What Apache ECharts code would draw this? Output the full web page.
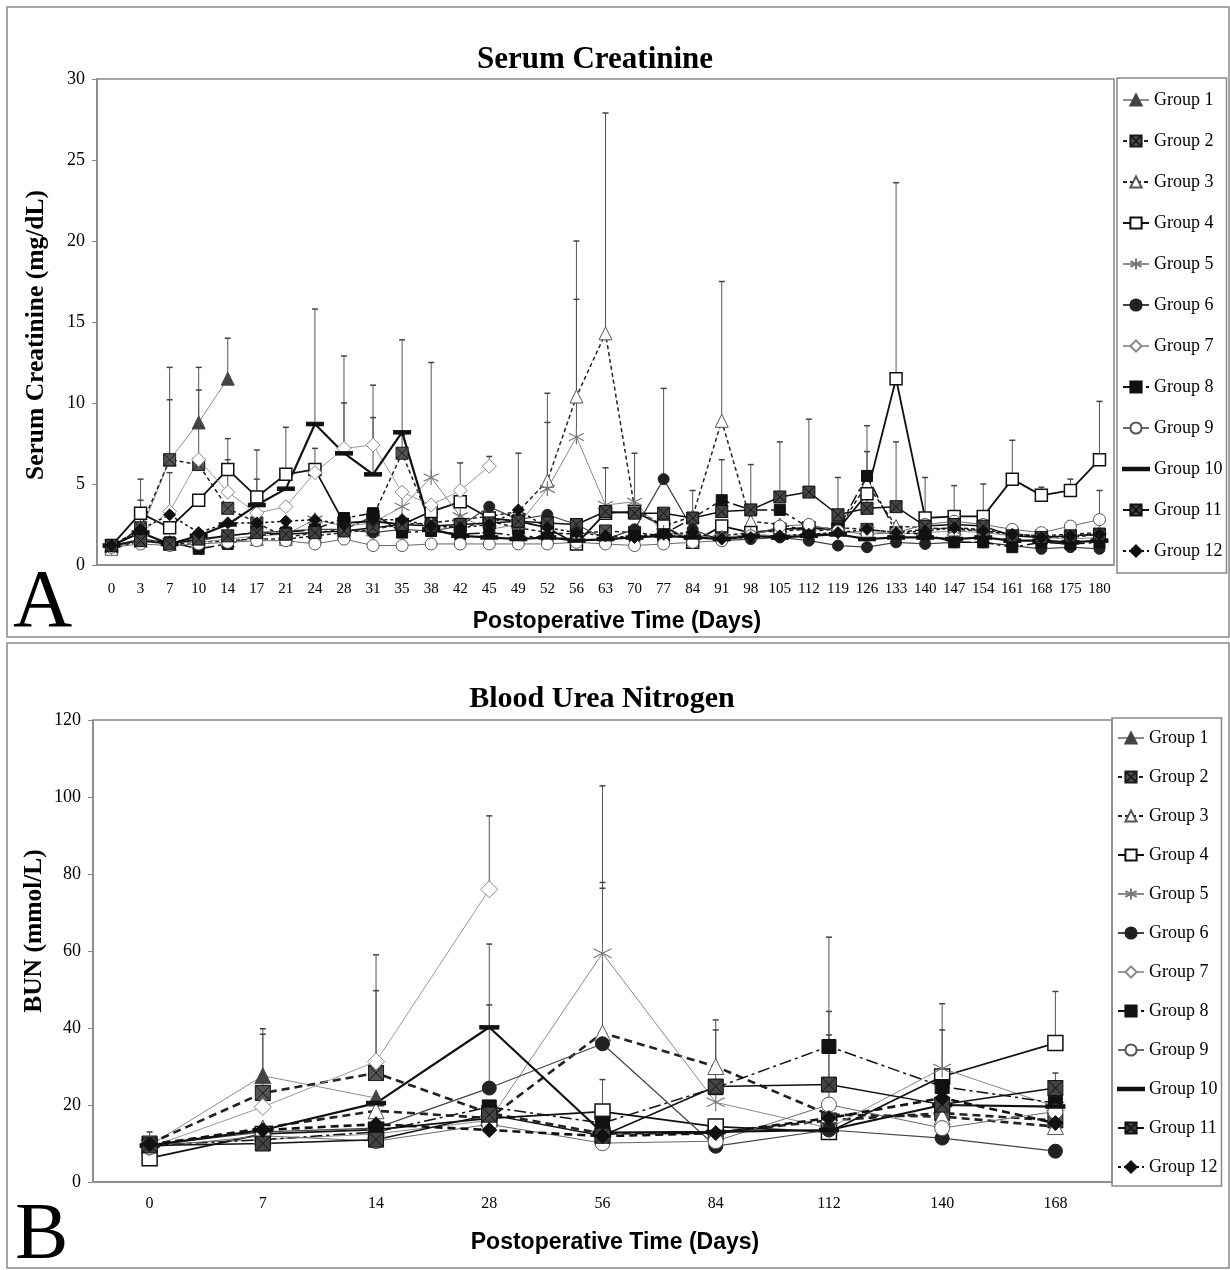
<!DOCTYPE html>
<html>
<head>
<meta charset="utf-8">
<title>Serum Creatinine and BUN</title>
<script src="https://cdn.jsdelivr.net/npm/echarts@6/dist/echarts.min.js"></script>
<style>
  html, body { margin: 0; padding: 0; background: #fff; }
  #chart { width: 1230px; height: 1270px; }
</style>
</head>
<body>
<div id="chart"></div>
<script>
// ---- Panel A: serum creatinine (mg/dL) ----
const creatDays = ['0','3','7','10','14','17','21','24','28','31','35','38','42','45','49','52','56','63','70','77','84','91','98','105','112','119','126','133','140','147','154','161','168','175','180'];
const creatG1 = [1.2, 2.0, 6.5, 8.8, 11.5];
const creatG2 = [1.1,2.3,6.5,6.2,3.5, 2.6,1.7,2.0,2.2,3.0, 6.9,2.5,2.3,2.7,2.3, 2.0,1.9,2.1,2.0,1.8, 1.7,1.8,2.0,2.1,2.2, 2.3,2.2,2.0,2.2,2.3, 2.2,1.9,1.8,1.7,1.9];
const creatG3 = [1.0,1.5,1.3,1.4,1.5, 1.6,1.6,1.8,2.0,2.2, 2.5,2.6,2.8,3.0,3.3, 5.2,10.4,14.3,3.5,2.4, 3.0,8.9,2.7,2.5,2.1, 2.2,5.0,2.4,2.3,2.2, 2.1,1.9,1.8,1.9,2.0];
const creatG4 = [1.2,3.2,2.3,4.0,5.9, 4.2,5.6,5.9,2.6,2.7, 2.5,3.3,3.9,2.9,2.7, 2.3,1.3,3.2,3.3,2.4, 1.4,2.4,2.0,2.2,2.3, 2.2,4.4,11.5,2.9,3.0, 3.0,5.3,4.3,4.6,6.5];
const creatG5 = [1.0,1.6,1.4,1.4,1.6, 1.8,1.9,2.8,2.4,2.6, 3.6,5.4,3.0,2.2,2.5, 4.7,7.9,3.7,3.9,2.0, 1.8,1.7,1.9,1.8,1.9, 2.0,2.1,1.9,2.0,2.1, 2.0,1.8,1.7,1.6,1.7];
const creatG6 = [1.2,1.6,1.4,1.5,1.8, 2.0,2.1,2.2,2.2,2.0, 2.2,2.1,2.4,3.6,2.8, 3.1,2.5,1.6,2.2,5.3, 2.2,1.5,1.6,1.7,1.5, 1.2,1.1,1.4,1.3,1.4, 1.4,1.2,1.0,1.1,1.0];
const creatG7 = [1.2,2.0,3.3,6.5,4.5, 3.2,3.6,5.7,7.2,7.4, 4.5,3.7,4.6,6.1];
const creatG8 = [1.2,1.5,1.4,1.0,1.3, 1.8,2.0,2.2,2.9,3.2, 2.0,2.1,1.9,2.0,1.8, 1.7,1.6,1.5,1.8,1.9, 2.9,4.0,3.4,3.4,2.3, 2.2,5.5,2.0,1.9,1.4, 1.4,1.1,1.4,1.3,1.4];
const creatG9 = [1.1,1.3,1.2,1.3,1.4, 1.5,1.5,1.3,1.6,1.2, 1.2,1.3,1.3,1.3,1.3, 1.3,1.4,1.3,1.2,1.3, 1.4,1.5,1.8,2.4,2.5, 2.1,1.9,2.0,2.5,2.7, 2.5,2.2,2.0,2.4,2.8];
const creatG10 = [1.2,2.0,1.3,1.8,2.5, 3.7,4.7,8.7,6.9,5.6, 8.2,2.2,1.8,1.7,1.6, 1.7,1.5,1.6,1.7,1.8, 1.7,1.6,1.8,1.7,1.8, 1.9,1.6,1.7,1.7,1.6, 1.7,1.5,1.5,1.4,1.5];
const creatG11 = [1.2,1.5,1.3,1.6,1.8, 2.0,1.9,2.0,2.1,2.3, 2.5,2.4,2.5,2.6,2.7, 2.6,2.5,3.3,3.2,3.2, 2.9,3.3,3.4,4.2,4.5, 3.1,3.5,3.6,2.4,2.5, 2.4,1.8,1.7,1.8,1.9];
const creatG12 = [1.2,2.2,3.1,2.0,2.6, 2.6,2.7,2.8,2.5,2.8, 2.8,2.4,2.3,2.5,3.4, 2.3,2.0,1.8,1.7,1.9, 2.0,1.6,1.7,1.8,1.9, 2.0,2.2,2.0,2.1,2.3, 2.1,1.9,1.7,1.8,1.9];
// error bar tops: [group number, day index, upper end]
const creatErr = [
  [4,1,5.3],[12,1,4.0],[2,2,12.2],[1,2,10.2],[7,2,5.7],[1,3,12.2],[7,3,10.8],
  [1,4,14.0],[4,4,7.8],[7,4,6.5],[4,5,7.1],[10,5,5.3],[4,6,8.5],[10,7,15.8],[4,7,7.2],
  [7,8,12.9],[10,8,10.0],[7,9,11.1],[10,9,9.1],[10,10,13.9],[2,10,8.0],[5,11,12.5],
  [4,12,6.3],[7,13,6.7],[12,14,6.9],[3,15,10.6],[5,15,8.8],[3,16,20.0],[5,16,16.4],
  [3,17,27.9],[4,17,6.0],[11,18,6.9],[6,19,10.9],[11,20,4.6],[3,21,17.5],[8,21,6.5],
  [11,22,6.2],[11,23,7.6],[11,24,9.0],[11,25,5.4],[8,26,8.6],[11,26,7.0],[4,27,23.6],
  [11,27,7.6],[4,28,5.4],[4,29,4.9],[4,30,5.0],[4,31,7.7],[4,32,4.8],[4,33,5.3],
  [4,34,10.1],[9,34,4.6]
];

// ---- Panel B: blood urea nitrogen (mmol/L) ----
const bunDays = ['0','7','14','28','56','84','112','140','168'];
const bunG1 = [9.5, 27.6, 21.8];
const bunG2 = [10.0, 23.1, 28.3, 17.9, 12.6, 12.8, 16.0, 17.9, 16.0];
const bunG3 = [9.5, 14.0, 18.5, 16.6, 38.7, 30.0, 17.5, 17.0, 14.4];
const bunG4 = [6.2, 12.5, 13.6, 16.5, 18.3, 14.4, 13.0, 27.4, 36.1];
const bunG5 = [9.8, 11.0, 12.5, 16.0, 59.4, 20.7, 14.0, 29.5, 19.6];
const bunG6 = [9.5, 13.0, 14.0, 24.4, 35.9, 9.3, 13.5, 11.4, 8.0];
const bunG7 = [9.0, 19.5, 31.3, 76.0];
const bunG8 = [9.5, 11.0, 13.0, 19.5, 15.3, 24.5, 35.2, 24.8, 20.5];
const bunG9 = [9.0, 12.0, 10.6, 15.0, 10.1, 10.6, 20.1, 14.0, 18.3];
const bunG10 = [9.5, 13.5, 20.5, 40.2, 12.8, 13.0, 13.5, 20.0, 19.6];
const bunG11 = [9.5, 10.0, 11.0, 17.5, 12.0, 24.8, 25.3, 20.1, 24.4];
const bunG12 = [9.8, 13.5, 15.0, 13.5, 11.9, 12.7, 16.6, 21.8, 15.3];
const bunErr = [
  [2,0,13.0],[1,1,39.8],[2,1,38.4],[7,2,59.0],[2,2,49.7],[7,3,95.1],[10,3,61.8],[6,3,46.0],
  [5,4,102.9],[3,4,77.8],[6,4,76.3],[4,4,26.6],[3,5,42.1],[11,5,39.5],[8,6,63.6],
  [11,6,44.3],[12,6,38.2],[5,7,46.3],[4,7,39.5],[4,8,49.5],[11,8,28.3]
];

const groupNames = ['Group 1','Group 2','Group 3','Group 4','Group 5','Group 6','Group 7','Group 8','Group 9','Group 10','Group 11','Group 12'];

// marker / line looks
const crossSquare = 'path://M0,0H10V10H0Z M0,0L10,10 M10,0L0,10';
const asterisk = 'path://M5,0V10 M0.7,2.5L9.3,7.5 M9.3,2.5L0.7,7.5';
const dashMark = 'path://M0,0H10V2H0Z';
const styles = [
  { symbol: 'triangle', size: 13, fill: '#444', border: '#444', bw: 1, line: '#8c8c8c', width: 1, type: 'solid' },
  { symbol: crossSquare, size: 12, fill: '#555', border: '#1a1a1a', bw: 1, line: '#222', width: 1.5, type: [4, 3] },
  { symbol: 'triangle', size: 13, fill: '#fff', border: '#555', bw: 1, line: '#222', width: 1.5, type: [4, 3] },
  { symbol: 'rect', size: 12, fill: '#fff', border: '#111', bw: 1.5, line: '#111', width: 1.8, type: 'solid' },
  { symbol: asterisk, size: 15, fill: '#777', border: '#777', bw: 1.2, line: '#8a8a8a', width: 1, type: 'solid' },
  { symbol: 'circle', size: 11, fill: '#222', border: '#222', bw: 1, line: '#444', width: 1.2, type: 'solid' },
  { symbol: 'diamond', size: 14, fill: '#fff', border: '#888', bw: 1, line: '#9a9a9a', width: 1, type: 'solid' },
  { symbol: 'rect', size: 11, fill: '#111', border: '#111', bw: 1, line: '#111', width: 1.5, type: [12, 4, 3, 4] },
  { symbol: 'circle', size: 12, fill: '#fff', border: '#555', bw: 1, line: '#6a6a6a', width: 1, type: 'solid' },
  { symbol: dashMark, size: [16, 4], fill: '#111', border: '#111', bw: 1, line: '#111', width: 2.2, type: 'solid' },
  { symbol: crossSquare, size: 12, fill: '#444', border: '#111', bw: 1, line: '#111', width: 1.5, type: 'solid' },
  { symbol: 'diamond', size: 12, fill: '#111', border: '#111', bw: 1, line: '#111', width: 1.5, type: [3, 3] }
];

const creatGroups = [creatG1, creatG2, creatG3, creatG4, creatG5, creatG6, creatG7, creatG8, creatG9, creatG10, creatG11, creatG12];
const bunGroups = [bunG1, bunG2, bunG3, bunG4, bunG5, bunG6, bunG7, bunG8, bunG9, bunG10, bunG11, bunG12];

const serif = "'Liberation Serif', 'Times New Roman', serif";
const sans = "'Liberation Sans', Arial, sans-serif";

function lineSeries(values, i, axis, big) {
  const s = styles[i];
  let size = s.size;
  if (big) size = Array.isArray(size) ? [size[0] + 2, size[1]] : size + 3;
  let width = s.width;
  let type = s.type;
  if (big && (i === 1 || i === 2 || i === 11)) { width = 2.6; type = [8, 5]; }
  return {
    name: groupNames[i],
    type: 'line',
    xAxisIndex: axis,
    yAxisIndex: axis,
    data: values,
    symbol: s.symbol,
    symbolSize: size,
    showAllSymbol: true,
    connectNulls: false,
    z: 3,
    lineStyle: { color: s.line, width: width, type: type },
    itemStyle: { color: s.fill, borderColor: s.border, borderWidth: s.bw, opacity: 1 },
    emphasis: { disabled: true }
  };
}

function errorSeries(groups, errs, axis) {
  const data = errs.map(e => [e[1], groups[e[0] - 1][e[1]], e[2]]);
  return {
    type: 'custom',
    xAxisIndex: axis,
    yAxisIndex: axis,
    z: 1,
    silent: true,
    data: data,
    encode: { x: 0, y: [1, 2] },
    renderItem: function (params, api) {
      const lo = api.coord([api.value(0), api.value(1)]);
      const hi = api.coord([api.value(0), api.value(2)]);
      return {
        type: 'group',
        children: [
          { type: 'line', shape: { x1: lo[0], y1: lo[1], x2: hi[0], y2: hi[1] }, style: { stroke: '#555', lineWidth: 1 } },
          { type: 'line', shape: { x1: hi[0] - 3, y1: hi[1], x2: hi[0] + 3, y2: hi[1] }, style: { stroke: '#444', lineWidth: 1.5 } }
        ]
      };
    }
  };
}

const axisGray = '#888';
function xAxis(days, grid, fontSize, margin) {
  return {
    type: 'category', gridIndex: grid, data: days, boundaryGap: true,
    axisLine: { lineStyle: { color: axisGray, width: 1.5 } },
    axisTick: { lineStyle: { color: axisGray }, length: 5, interval: 0 },
    axisLabel: { interval: 0, color: '#000', fontFamily: serif, fontSize: fontSize, margin: margin },
    splitLine: { show: false }
  };
}
function yAxis(grid, max, step) {
  return {
    type: 'value', gridIndex: grid, min: 0, max: max, interval: step,
    axisLine: { show: true, lineStyle: { color: axisGray, width: 1.5 } },
    axisTick: { show: true, lineStyle: { color: axisGray }, length: 5 },
    axisLabel: { color: '#000', fontFamily: serif, fontSize: 18, margin: 12 },
    splitLine: { show: false }
  };
}
// Group 10 has a bar-shaped marker, so its legend key is drawn as a plain thick line
const legendItems = groupNames.map(n => n === 'Group 10' ? { name: n, icon: 'path://M0,0H26V2.6H0Z' } : n);
function legend(pos, gap, pad) {
  return {
    data: legendItems, orient: 'vertical', left: pos.left, top: pos.top,
    itemWidth: 26, itemHeight: 14, itemGap: gap, padding: pad,
    borderColor: '#888', borderWidth: 1.5, selectedMode: false,
    textStyle: { fontFamily: serif, fontSize: 18, color: '#000', lineHeight: 20 }
  };
}

const chart = echarts.init(document.getElementById('chart'));
const series = [];
creatGroups.forEach((g, i) => series.push(lineSeries(g, i, 0, false)));
bunGroups.forEach((g, i) => series.push(lineSeries(g, i, 1, true)));
series.push(errorSeries(creatGroups, creatErr, 0));
series.push(errorSeries(bunGroups, bunErr, 1));

chart.setOption({
  animation: false,
  backgroundColor: '#fff',
  grid: [
    { left: 97, top: 79, width: 1017, height: 486, show: true, borderColor: axisGray, borderWidth: 1.5 },
    { left: 93, top: 720, width: 1019, height: 462, show: true, borderColor: axisGray, borderWidth: 1.5 }
  ],
  xAxis: [xAxis(creatDays, 0, 15, 17), xAxis(bunDays, 1, 16, 14)],
  yAxis: [yAxis(0, 30, 5), yAxis(1, 120, 20)],
  legend: [
    legend({ left: 1117, top: 78 }, 21, [12, 4, 12, 5]),
    legend({ left: 1112, top: 718 }, 19, [10, 4, 9, 5])
  ],
  graphic: [
    { type: 'rect', silent: true, shape: { x: 7, y: 7, width: 1222, height: 630 }, style: { fill: 'none', stroke: '#888', lineWidth: 1.5 } },
    { type: 'rect', silent: true, shape: { x: 7, y: 643, width: 1222, height: 625 }, style: { fill: 'none', stroke: '#888', lineWidth: 1.5 } },
    { type: 'text', x: 595, y: 60, style: { text: 'Serum Creatinine', font: "bold 31px " + serif, fill: '#000', align: 'center', verticalAlign: 'middle' } },
    { type: 'text', x: 602, y: 699, style: { text: 'Blood Urea Nitrogen', font: "bold 30px " + serif, fill: '#000', align: 'center', verticalAlign: 'middle' } },
    { type: 'text', x: 36, y: 335, rotation: Math.PI / 2, style: { text: 'Serum Creatinine (mg/dL)', font: "bold 25.5px " + serif, fill: '#000', align: 'center', verticalAlign: 'middle' } },
    { type: 'text', x: 34, y: 931, rotation: Math.PI / 2, style: { text: 'BUN (mmol/L)', font: "bold 25.5px " + serif, fill: '#000', align: 'center', verticalAlign: 'middle' } },
    { type: 'text', x: 617, y: 622, style: { text: 'Postoperative Time (Days)', font: "bold 23px " + sans, fill: '#000', align: 'center', verticalAlign: 'middle' } },
    { type: 'text', x: 615, y: 1243, style: { text: 'Postoperative Time (Days)', font: "bold 23px " + sans, fill: '#000', align: 'center', verticalAlign: 'middle' } },
    { type: 'text', x: 13, y: 604, style: { text: 'A', font: "82px " + serif, fill: '#000', align: 'left', verticalAlign: 'middle' } },
    { type: 'text', x: 15, y: 1237, style: { text: 'B', font: "80px " + serif, fill: '#000', align: 'left', verticalAlign: 'middle' } }
  ],
  series: series
});

window.addEventListener('resize', () => chart.resize());
</script>
</body>
</html>
